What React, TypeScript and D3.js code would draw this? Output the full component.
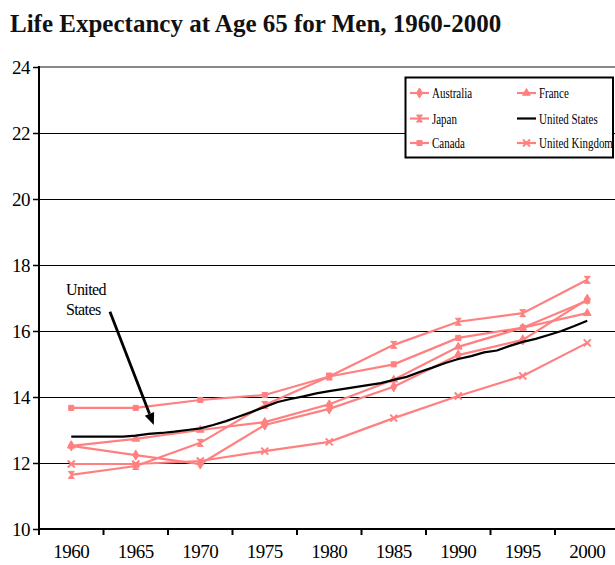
import { useRef, useEffect } from "react";
import * as d3 from "d3";

// Five-year categories on the x axis
const years = [1960, 1965, 1970, 1975, 1980, 1985, 1990, 1995, 2000];

// Life expectancy at 65, men (years)
const australia = [12.52, 12.24, 11.97, 13.15, 13.64, 14.31, 15.27, 15.73, 16.96];
const japan = [11.64, 11.91, 12.61, 13.76, 14.62, 15.58, 16.28, 16.54, 17.55];
const canada = [13.67, 13.67, 13.91, 14.06, 14.62, 14.99, 15.79, 16.1, 16.92];
const france = [12.52, 12.73, 13.0, 13.24, 13.78, 14.52, 15.52, 16.1, 16.54];
const uk = [11.97, 11.97, 12.06, 12.36, 12.64, 13.36, 14.03, 14.64, 15.64];

// United States is annual, 1960..2000
const usFirstYear = 1960;
const us = [
  12.8, 12.8, 12.8, 12.8, 12.8, 12.83, 12.88, 12.91, 12.95, 13.0,
  13.05, 13.15, 13.27, 13.41, 13.55, 13.7, 13.85, 13.94, 14.02, 14.11,
  14.18, 14.24, 14.3, 14.36, 14.42, 14.52, 14.61, 14.76, 14.89, 15.03,
  15.15, 15.24, 15.35, 15.41, 15.55, 15.67, 15.76, 15.88, 16.0, 16.15,
  16.31,
];

const yTicks = [10, 12, 14, 16, 18, 20, 22, 24];

// annotation arrow, in data units [year, value]
const arrowFrom = [1963.0, 16.58];
const arrowTo = [1966.4, 13.15];

type Series = { name: string; values: number[]; marker: string };

const pinkSeries: Series[] = [
  { name: "Australia", values: australia, marker: "diamond" },
  { name: "Japan", values: japan, marker: "hourglass" },
  { name: "Canada", values: canada, marker: "square" },
  { name: "France", values: france, marker: "triangle" },
  { name: "United Kingdom", values: uk, marker: "times" },
];

const PINK = "#ff8080";
const FONT = "'Liberation Serif', 'Times New Roman', serif";

function markerPath(kind: string) {
  if (kind === "hourglass") {
    return "M-3,-3.5L3,-3.5L-3,3.5L3,3.5Z";
  }
  const types: Record<string, d3.SymbolType> = {
    diamond: d3.symbolDiamond,
    square: d3.symbolSquare,
    triangle: d3.symbolTriangle,
    times: d3.symbolTimes,
  };
  const size = kind === "times" ? 34 : kind === "diamond" ? 30 : 26;
  return d3.symbol(types[kind], size)() ?? "";
}

const App = () => {
  const svgRef = useRef<SVGSVGElement | null>(null);
  const width = 615;
  const height = 565;

  useEffect(() => {
    if (!svgRef.current) return;
    const svg = d3.select(svgRef.current);
    svg.selectAll("*").remove();

    const left = 39;
    const right = 619.5;
    const top = 67;
    const bottom = 529;

    const x = d3.scaleLinear().domain([1957.5, 2002.5]).range([left, right]);
    const y = d3.scaleLinear().domain([10, 24]).range([bottom, top]);

    // Title
    svg
      .append("text")
      .attr("x", 10)
      .attr("y", 32)
      .style("font-family", FONT)
      .style("font-size", "25px")
      .style("font-weight", "bold")
      .style("fill", "#111")
      .text("Life Expectancy at Age 65 for Men, 1960-2000");

    // Gridlines
    yTicks.forEach((t) => {
      if (t === 10) return;
      svg
        .append("line")
        .attr("x1", left)
        .attr("x2", width)
        .attr("y1", y(t) + (t === 24 ? 0 : 0.5))
        .attr("y2", y(t) + (t === 24 ? 0 : 0.5))
        .attr("stroke", t === 24 ? "#888" : "#000")
        .attr("stroke-width", t === 24 ? 2 : 1);
    });

    // Y axis + ticks + labels
    svg
      .append("line")
      .attr("x1", left)
      .attr("x2", left)
      .attr("y1", y(24) - 1)
      .attr("y2", bottom + 6)
      .attr("stroke", "#000")
      .attr("stroke-width", 2);

    yTicks.forEach((t) => {
      svg
        .append("line")
        .attr("x1", left - 6)
        .attr("x2", left)
        .attr("y1", y(t) + 0.5)
        .attr("y2", y(t) + 0.5)
        .attr("stroke", "#000")
        .attr("stroke-width", 1.5);
      svg
        .append("text")
        .attr("x", 30)
        .attr("y", y(t))
        .attr("dy", "0.35em")
        .attr("text-anchor", "end")
        .style("font-family", FONT)
        .style("font-size", "19px")
        .style("letter-spacing", "-0.5px")
        .text(t);
    });

    // X axis
    svg
      .append("line")
      .attr("x1", left)
      .attr("x2", width)
      .attr("y1", bottom)
      .attr("y2", bottom)
      .attr("stroke", "#000")
      .attr("stroke-width", 2.2);

    years.forEach((yr) => {
      svg
        .append("line")
        .attr("x1", x(yr + 2.5))
        .attr("x2", x(yr + 2.5))
        .attr("y1", bottom)
        .attr("y2", bottom + 6)
        .attr("stroke", "#000")
        .attr("stroke-width", 2);
      svg
        .append("text")
        .attr("x", x(yr))
        .attr("y", 558)
        .attr("text-anchor", "middle")
        .style("font-family", FONT)
        .style("font-size", "19px")
        .style("letter-spacing", "-0.5px")
        .text(yr);
    });

    // Pink series
    const line5 = d3
      .line<number>()
      .x((_, i) => x(years[i]))
      .y((d) => y(d));

    pinkSeries.forEach((s) => {
      svg
        .append("path")
        .attr("d", line5(s.values) ?? "")
        .attr("fill", "none")
        .attr("stroke", PINK)
        .attr("stroke-width", 2.2);
    });

    pinkSeries.forEach((s) => {
      const stroked = s.marker === "times";
      svg
        .append("g")
        .selectAll("path")
        .data(s.values)
        .enter()
        .append("path")
        .attr("transform", (d, i) => `translate(${x(years[i])},${y(d)})`)
        .attr("d", markerPath(s.marker))
        .attr("fill", stroked ? "none" : PINK)
        .attr("stroke", PINK)
        .attr("stroke-width", stroked ? 2 : 1);
    });

    // United States, annual
    const lineUS = d3
      .line<number>()
      .x((_, i) => x(usFirstYear + i))
      .y((d) => y(d));

    svg
      .append("path")
      .attr("d", lineUS(us) ?? "")
      .attr("fill", "none")
      .attr("stroke", "#000")
      .attr("stroke-width", 2.2);

    // Annotation
    const ax1 = x(arrowFrom[0]);
    const ay1 = y(arrowFrom[1]);
    const ax2 = x(arrowTo[0]);
    const ay2 = y(arrowTo[1]);
    const ang = Math.atan2(ay2 - ay1, ax2 - ax1);
    const headLen = 12;
    const headW = 5;
    const bx = ax2 - headLen * Math.cos(ang);
    const by = ay2 - headLen * Math.sin(ang);

    svg
      .append("line")
      .attr("x1", ax1)
      .attr("y1", ay1)
      .attr("x2", bx)
      .attr("y2", by)
      .attr("stroke", "#000")
      .attr("stroke-width", 2.8);
    svg
      .append("path")
      .attr(
        "d",
        `M${ax2},${ay2}L${bx - headW * Math.sin(ang)},${by + headW * Math.cos(ang)}L${bx + headW * Math.sin(ang)},${by - headW * Math.cos(ang)}Z`
      )
      .attr("fill", "#000");

    const note = svg
      .append("text")
      .style("font-family", FONT)
      .style("font-size", "16px")
      .style("letter-spacing", "-0.6px");
    note.append("tspan").attr("x", ax1 - 44).attr("y", ay1 - 17).text("United");
    note.append("tspan").attr("x", ax1 - 44).attr("y", ay1 + 3).text("States");

    // Legend
    const legend = svg.append("g");
    legend
      .append("rect")
      .attr("x", 405.5)
      .attr("y", 77.5)
      .attr("width", 207.5)
      .attr("height", 80)
      .attr("fill", "#fff")
      .attr("stroke", "#000")
      .attr("stroke-width", 2);

    const entries = [
      { name: "Australia", col: 0, row: 0, marker: "diamond", color: PINK },
      { name: "Japan", col: 0, row: 1, marker: "hourglass", color: PINK },
      { name: "Canada", col: 0, row: 2, marker: "square", color: PINK },
      { name: "France", col: 1, row: 0, marker: "triangle", color: PINK },
      { name: "United States", col: 1, row: 1, marker: "", color: "#000" },
      { name: "United Kingdom", col: 1, row: 2, marker: "times", color: PINK },
    ];
    const colX = [410, 517];
    const rowY = [93, 118.5, 143];

    entries.forEach((e) => {
      const lx = colX[e.col];
      const ly = rowY[e.row];
      legend
        .append("line")
        .attr("x1", lx)
        .attr("x2", lx + 19)
        .attr("y1", ly)
        .attr("y2", ly)
        .attr("stroke", e.color)
        .attr("stroke-width", 2.2);
      if (e.marker) {
        const stroked = e.marker === "times";
        legend
          .append("path")
          .attr("transform", `translate(${lx + 9.5},${ly})`)
          .attr("d", markerPath(e.marker))
          .attr("fill", stroked ? "none" : e.color)
          .attr("stroke", e.color)
          .attr("stroke-width", stroked ? 2 : 1);
      }
      legend
        .append("g")
        .attr("transform", `translate(${lx + 22},${ly + 5}) scale(0.73,1)`)
        .append("text")
        .style("font-family", FONT)
        .style("font-size", "15px")
        .text(e.name);
    });
  }, []);

  return (
    <svg
      ref={svgRef}
      width={width}
      height={height}
      style={{ position: "absolute", left: 0, top: 0, background: "#fff" }}
    ></svg>
  );
};

export default App;
